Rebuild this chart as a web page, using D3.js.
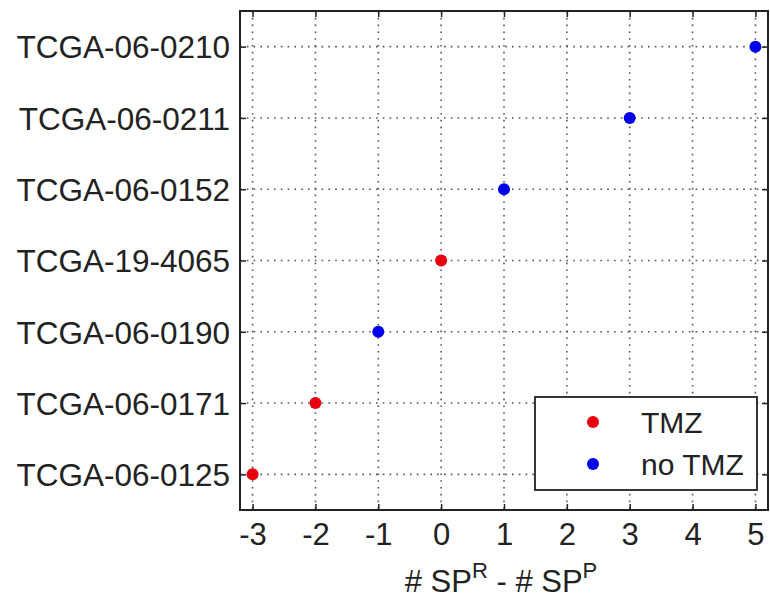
<!DOCTYPE html>
<html>
<head>
<meta charset="utf-8">
<script src="https://cdn.jsdelivr.net/npm/d3@7"></script>
<style>
  html, body { margin: 0; padding: 0; background: #fff; }
  svg text { font-family: "Liberation Sans", Arial, Helvetica, sans-serif; fill: #222; }
</style>
</head>
<body>
<svg id="chart" width="770" height="601"></svg>
<script>
// Samples, listed bottom to top
const samples = ["TCGA-06-0125", "TCGA-06-0171", "TCGA-06-0190", "TCGA-19-4065", "TCGA-06-0152", "TCGA-06-0211", "TCGA-06-0210"];
// #SP(R) - #SP(P) for each sample
const spDiff = [-3, -2, -1, 0, 1, 3, 5];
// Treatment group of each sample
const treatment = ["TMZ", "TMZ", "no TMZ", "TMZ", "no TMZ", "no TMZ", "no TMZ"];
const xTicks = [-3, -2, -1, 0, 1, 2, 3, 4, 5];
const groups = ["TMZ", "no TMZ"];
const groupColors = ["#e8000e", "#0000ea"];

const svg = d3.select("#chart");
const pLeft = 240, pRight = 768, pTop = 11, pBottom = 510;

const x = d3.scaleLinear().domain([-3.2, 5.2]).range([pLeft, pRight]);
const y = d3.scaleLinear().domain([0.5, 7.5]).range([pBottom, pTop]);
const color = d3.scaleOrdinal().domain(groups).range(groupColors);
const yIdx = samples.map((d, i) => i + 1);

// dotted grid
const grid = svg.append("g").attr("stroke", "#555").attr("stroke-width", 1.6)
  .attr("stroke-dasharray", "1.6,5.2");
grid.selectAll("line.v").data(xTicks).join("line").attr("class", "v")
  .attr("x1", d => x(d)).attr("x2", d => x(d)).attr("y1", pTop).attr("y2", pBottom);
grid.selectAll("line.h").data(yIdx).join("line").attr("class", "h")
  .attr("x1", pLeft).attr("x2", pRight).attr("y1", d => y(d)).attr("y2", d => y(d));

// axes with inward ticks on all four sides
const tickLen = 6;
const axB = svg.append("g").attr("transform", `translate(0,${pBottom})`)
  .call(d3.axisBottom(x).tickValues(xTicks).tickFormat(d => String(d)).tickSize(-tickLen).tickPadding(13));
const axT = svg.append("g").attr("transform", `translate(0,${pTop})`)
  .call(d3.axisTop(x).tickValues(xTicks).tickFormat("").tickSize(-tickLen));
const axL = svg.append("g").attr("transform", `translate(${pLeft},0)`)
  .call(d3.axisLeft(y).tickValues(yIdx).tickFormat(d => samples[d - 1]).tickSize(-tickLen).tickPadding(10));
const axR = svg.append("g").attr("transform", `translate(${pRight},0)`)
  .call(d3.axisRight(y).tickValues(yIdx).tickFormat("").tickSize(-tickLen));
[axB, axT, axL, axR].forEach(a => {
  a.select(".domain").remove();
  a.selectAll(".tick line").attr("stroke", "#222").attr("stroke-width", 1.5);
});
axB.selectAll("text").attr("font-size", 31).attr("fill", "#222")
  .attr("font-family", "Liberation Sans, Arial, sans-serif");
axL.selectAll("text").attr("font-size", 31.5).attr("fill", "#222")
  .attr("font-family", "Liberation Sans, Arial, sans-serif").attr("dy", "0.36em");

// frame
svg.append("rect").attr("x", pLeft).attr("y", pTop).attr("width", pRight - pLeft).attr("height", pBottom - pTop)
  .attr("fill", "none").attr("stroke", "#222").attr("stroke-width", 2);

// points
svg.append("g").selectAll("circle").data(spDiff).join("circle")
  .attr("cx", d => x(d)).attr("cy", (d, i) => y(i + 1)).attr("r", 6)
  .attr("fill", (d, i) => color(treatment[i]));

// x label: # SP^R - # SP^P
const xl = svg.append("text").attr("x", (pLeft + pRight) / 2 - 3).attr("y", 592)
  .attr("text-anchor", "middle").attr("font-size", 31);
xl.append("tspan").text("# SP");
xl.append("tspan").attr("font-size", 22).attr("dy", -14).text("R");
xl.append("tspan").attr("dy", 14).text(" - # SP");
xl.append("tspan").attr("font-size", 22).attr("dy", -14).text("P");

// legend
const lg = svg.append("g");
lg.append("rect").attr("x", 535).attr("y", 397).attr("width", 222).attr("height", 93)
  .attr("fill", "#fff").attr("stroke", "#222").attr("stroke-width", 1.8);
const rows = lg.selectAll("g.row").data(groups).join("g").attr("class", "row")
  .attr("transform", (d, i) => `translate(0,${422 + i * 42})`);
rows.append("circle").attr("cx", 593).attr("cy", 0).attr("r", 6).attr("fill", d => color(d));
rows.append("text").attr("x", 641).attr("y", 0).attr("dy", "0.36em")
  .attr("font-size", 30).text(d => d);
</script>
</body>
</html>
